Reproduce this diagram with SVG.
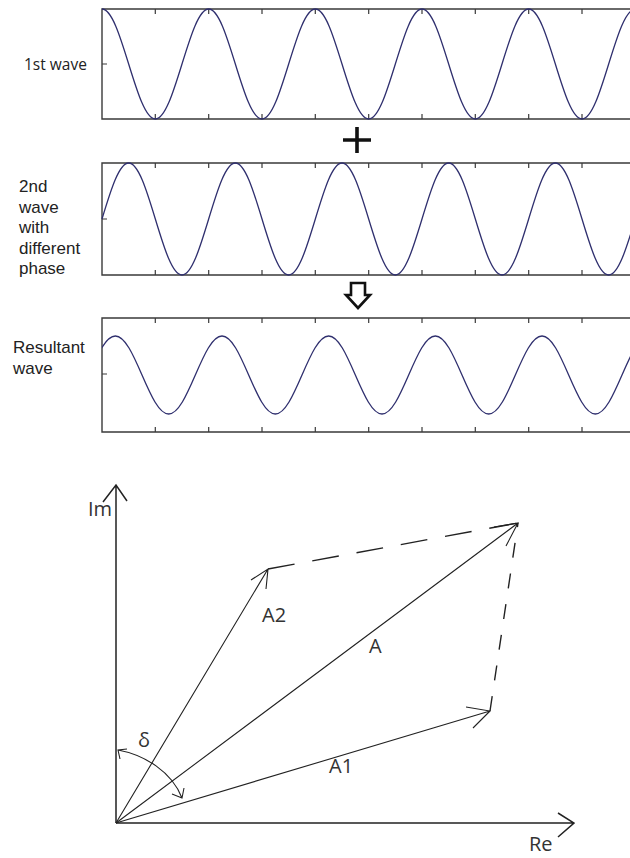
<svg xmlns="http://www.w3.org/2000/svg" width="630" height="858" viewBox="0 0 630 858">
<defs>
<style>
.frame{fill:none;stroke:#3a3a3a;stroke-width:1.4}
.tick{fill:none;stroke:#3a3a3a;stroke-width:1.2}
.wave{fill:none;stroke:#2f2f6e;stroke-width:1.3}
.lbl{font-family:"Liberation Sans",Arial,sans-serif;font-size:17px;fill:#222}
.lbl1{font-family:"Open Sans","Noto Sans",sans-serif;font-size:15.5px;fill:#222}
.ph{font-family:"Open Sans","Noto Sans",sans-serif;font-size:20px;fill:#333}
.axis{fill:none;stroke:#222;stroke-width:1.5}
.vec{fill:none;stroke:#222;stroke-width:1.1}
.dash1{fill:none;stroke:#222;stroke-width:1.4;stroke-dasharray:27 18}
.dash2{fill:none;stroke:#222;stroke-width:1.4;stroke-dasharray:15 16}
</style>
<clipPath id="clip3"><rect x="102" y="300" width="530" height="140"/></clipPath>
</defs>
<rect width="630" height="858" fill="#ffffff"/>

<g id="plot1">
<path class="frame" d="M630,9 H102 V119 H630"/>
<path class="tick" d="M155.3,9v5M208.7,9v5M262,9v5M315.3,9v5M368.7,9v5M422,9v5M475.3,9v5M528.7,9v5M582,9v5M155.3,119v-5M208.7,119v-5M262,119v-5M315.3,119v-5M368.7,119v-5M422,119v-5M475.3,119v-5M528.7,119v-5M582,119v-5M102,64h5"/>
<path class="wave" d="M102,9
c9.641,0 17.97,26.82 26.667,55 c8.697,28.18 17.026,55 26.667,55 c9.641,0 17.97,-26.82 26.667,-55 c8.697,-28.18 17.026,-55 26.667,-55
c9.641,0 17.97,26.82 26.667,55 c8.697,28.18 17.026,55 26.667,55 c9.641,0 17.97,-26.82 26.667,-55 c8.697,-28.18 17.026,-55 26.667,-55
c9.641,0 17.97,26.82 26.667,55 c8.697,28.18 17.026,55 26.667,55 c9.641,0 17.97,-26.82 26.667,-55 c8.697,-28.18 17.026,-55 26.667,-55
c9.641,0 17.97,26.82 26.667,55 c8.697,28.18 17.026,55 26.667,55 c9.641,0 17.97,-26.82 26.667,-55 c8.697,-28.18 17.026,-55 26.667,-55
c9.641,0 17.97,26.82 26.667,55 c8.697,28.18 17.026,55 26.667,55 c9.641,0 17.97,-26.82 26.667,-55 c8.697,-28.18 17.026,-55 26.667,-55"/>
<text class="lbl1" x="24" y="70">1st wave</text>
</g>

<g id="plus">
<path d="M343,140H371M357,127V153" fill="none" stroke="#111" stroke-width="3.6"/>
</g>

<g id="plot2">
<path class="frame" d="M630,163 H102 V275 H630"/>
<path class="tick" d="M155.3,163v5M208.7,163v5M262,163v5M315.3,163v5M368.7,163v5M422,163v5M475.3,163v5M528.7,163v5M582,163v5M155.3,275v-5M208.7,275v-5M262,275v-5M315.3,275v-5M368.7,275v-5M422,275v-5M475.3,275v-5M528.7,275v-5M582,275v-5M102,219h5"/>
<path class="wave" d="M102,219
c8.697,-28.69 17.026,-56 26.667,-56 c9.641,0 17.97,27.31 26.667,56 c8.697,28.69 17.026,56 26.667,56 c9.641,0 17.97,-27.31 26.667,-56
c8.697,-28.69 17.026,-56 26.667,-56 c9.641,0 17.97,27.31 26.667,56 c8.697,28.69 17.026,56 26.667,56 c9.641,0 17.97,-27.31 26.667,-56
c8.697,-28.69 17.026,-56 26.667,-56 c9.641,0 17.97,27.31 26.667,56 c8.697,28.69 17.026,56 26.667,56 c9.641,0 17.97,-27.31 26.667,-56
c8.697,-28.69 17.026,-56 26.667,-56 c9.641,0 17.97,27.31 26.667,56 c8.697,28.69 17.026,56 26.667,56 c9.641,0 17.97,-27.31 26.667,-56
c8.697,-28.69 17.026,-56 26.667,-56 c9.641,0 17.97,27.31 26.667,56 c8.697,28.69 17.026,56 26.667,56 c9.641,0 17.97,-27.31 26.667,-56"/>
<text class="lbl"><tspan x="19" y="192">2nd</tspan><tspan x="19" y="212.5">wave</tspan><tspan x="19" y="233">with</tspan><tspan x="19" y="253.5">different</tspan><tspan x="19" y="274">phase</tspan></text>
</g>

<g id="arrow-down">
<polygon points="351,283 365,283 365,295 370,295 358,308 346,295 351,295" fill="#fff" stroke="#111" stroke-width="2.6" stroke-linejoin="miter"/>
</g>

<g id="plot3">
<path class="frame" d="M630,318 H102 V432 H630"/>
<path class="tick" d="M155.3,318v5M208.7,318v5M262,318v5M315.3,318v5M368.7,318v5M422,318v5M475.3,318v5M528.7,318v5M582,318v5M155.3,432v-5M208.7,432v-5M262,432v-5M315.3,432v-5M368.7,432v-5M422,432v-5M475.3,432v-5M528.7,432v-5M582,432v-5M102,374h5"/>
<path class="wave" clip-path="url(#clip3)" d="M88.667,375
c8.697,-19.98 17.026,-39 26.667,-39 c9.641,0 17.97,19.02 26.667,39 c8.697,19.98 17.026,39 26.667,39 c9.641,0 17.97,-19.02 26.667,-39
c8.697,-19.98 17.026,-39 26.667,-39 c9.641,0 17.97,19.02 26.667,39 c8.697,19.98 17.026,39 26.667,39 c9.641,0 17.97,-19.02 26.667,-39
c8.697,-19.98 17.026,-39 26.667,-39 c9.641,0 17.97,19.02 26.667,39 c8.697,19.98 17.026,39 26.667,39 c9.641,0 17.97,-19.02 26.667,-39
c8.697,-19.98 17.026,-39 26.667,-39 c9.641,0 17.97,19.02 26.667,39 c8.697,19.98 17.026,39 26.667,39 c9.641,0 17.97,-19.02 26.667,-39
c8.697,-19.98 17.026,-39 26.667,-39 c9.641,0 17.97,19.02 26.667,39 c8.697,19.98 17.026,39 26.667,39 c9.641,0 17.97,-19.02 26.667,-39
c8.697,-19.98 17.026,-39 26.667,-39 c9.641,0 17.97,19.02 26.667,39"/>
<text class="lbl"><tspan x="13" y="353">Resultant</tspan><tspan x="13" y="373.5">wave</tspan></text>
</g>

<g id="axis-im">
<path class="axis" d="M116,823V485M103,502L116,485L127,501"/>
<text class="ph" x="88" y="516">Im</text>
</g>
<g id="axis-re">
<path class="axis" d="M116,823H574M558,813L574,823L558,837"/>
<text class="ph" x="529" y="851" font-size="19">Re</text>
</g>

<g id="connectors">
<g id="vec-a2">
<path class="vec" d="M116,823L268,569M251,580L268,569L266,589"/>
</g>
<g id="vec-a">
<path class="vec" d="M116,823L518,523M494,527L518,523L506,546"/>
</g>
<g id="vec-a1">
<path class="vec" d="M116,823L490,711M466,707L490,711L473,728"/>
</g>
<path class="dash1" d="M268,569L518,523"/>
<path class="dash2" d="M490,711L518,523"/>
<g id="delta-arc">
<path class="vec" d="M118,750C145,755 172,772 182,798M127,749L118,750L120,759M184,788L182,798L172,794"/>
</g>
</g>

<g id="vector-labels">
<text class="ph" x="262" y="622">A2</text>
<text class="ph" x="369" y="653">A</text>
<text class="ph" x="329" y="773">A1</text>
<text class="ph" x="138" y="747">δ</text>
</g>
</svg>
